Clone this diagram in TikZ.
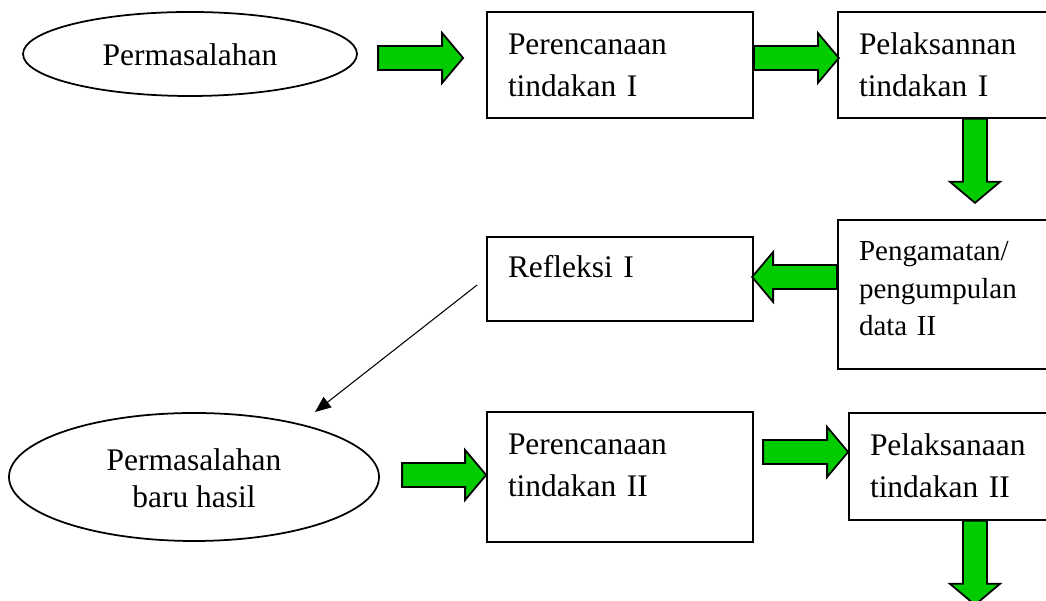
\documentclass[tikz,border=0pt]{standalone}
\usepackage{fontspec}
\setmainfont{Liberation Serif}
\usetikzlibrary{positioning,calc,shapes.geometric,arrows.meta}
\definecolor{arrowgreen}{RGB}{0,204,0}

\begin{document}
\begin{tikzpicture}[%
    every node/.style={font=\fontsize{17.9}{23.6}\selectfont},
    stepbox/.style={draw, line width=1pt, rectangle, inner xsep=0.42cm, inner ysep=0pt, align=left, text height=0.52cm},
    problem/.style={draw, line width=1pt, ellipse, inner sep=0pt, align=center},
    garrowfill/.style={draw, line width=1pt, fill=arrowgreen, line join=miter},
    pics/garrow/.style={code={%
      \draw[garrowfill] (0,-0.24) -- (#1-0.42,-0.24) -- (#1-0.42,-0.50) -- (#1,0)
        -- (#1-0.42,0.50) -- (#1-0.42,0.24) -- (0,0.24) -- cycle;}}]

    \useasboundingbox (0,0) rectangle (20.92,12.02);
    \clip (0,0) rectangle (20.92,12.02);

    % first cycle
    \node[problem, minimum width=6.68cm, minimum height=1.68cm, text height=0.52cm, text depth=0.04cm] (prob) at (3.80,10.94) {Permasalahan};
    \node[stepbox, text width=4.48cm, minimum height=2.12cm, text depth=0.92cm] (plan1) at (12.40,10.72) {Perencanaan\\tindakan I};
    \node[stepbox, text width=3.60cm, minimum height=2.12cm, text depth=0.92cm] (act1) at (18.98,10.72) {Pelaksannan\\tindakan I};
    \node[stepbox, text width=3.60cm, minimum height=2.98cm, text depth=1.86cm, font=\fontsize{16.5}{21.3}\selectfont] (obs) at (18.98,6.13) {Pengamatan/\\pengumpulan\\data II};
    \node[stepbox, text width=4.48cm, minimum height=1.68cm, text depth=0.56cm] (refl) at (12.40,6.44) {Refleksi I};

    % second cycle
    \node[problem, minimum width=7.40cm, minimum height=2.56cm, text height=1.24cm, text depth=0cm, font=\fontsize{17.9}{21.1}\selectfont] (newprob) at (3.88,2.48) {Permasalahan\\baru hasil};
    \node[stepbox, text width=4.48cm, minimum height=2.60cm, text depth=1.40cm] (plan2) at (12.40,2.48) {Perencanaan\\tindakan II};
    \node[stepbox, text width=3.38cm, minimum height=2.14cm, text depth=0.94cm] (act2) at (19.09,2.69) {Pelaksanaan\\tindakan II};

    % green arrows
    \pic at ($(plan1.west)+(-2.16,0.14)$) {garrow=1.70};
    \pic at ($(plan1.east)+(0,0.14)$) {garrow=1.70};
    \pic[rotate=-90] at ($(act1.south)+(0.52,0)$) {garrow=1.68};
    \pic[rotate=180] at ($(obs.west)+(0,0.35)$) {garrow=1.70};
    \pic at ($(plan2.west)+(-1.68,0.04)$) {garrow=1.68};
    \pic at ($(act2.west)+(-1.70,0.29)$) {garrow=1.70};
    \pic[rotate=-90] at ($(act2.south)+(0.41,0)$) {garrow=1.68};

    \coordinate (newtip) at (6.30,3.78);
    \draw[line width=0.6pt, -{Triangle[length=0.32cm,width=0.26cm]}] ($(refl.west)+(-0.18,-0.12)$) -- (newtip);

\end{tikzpicture}
\end{document}
